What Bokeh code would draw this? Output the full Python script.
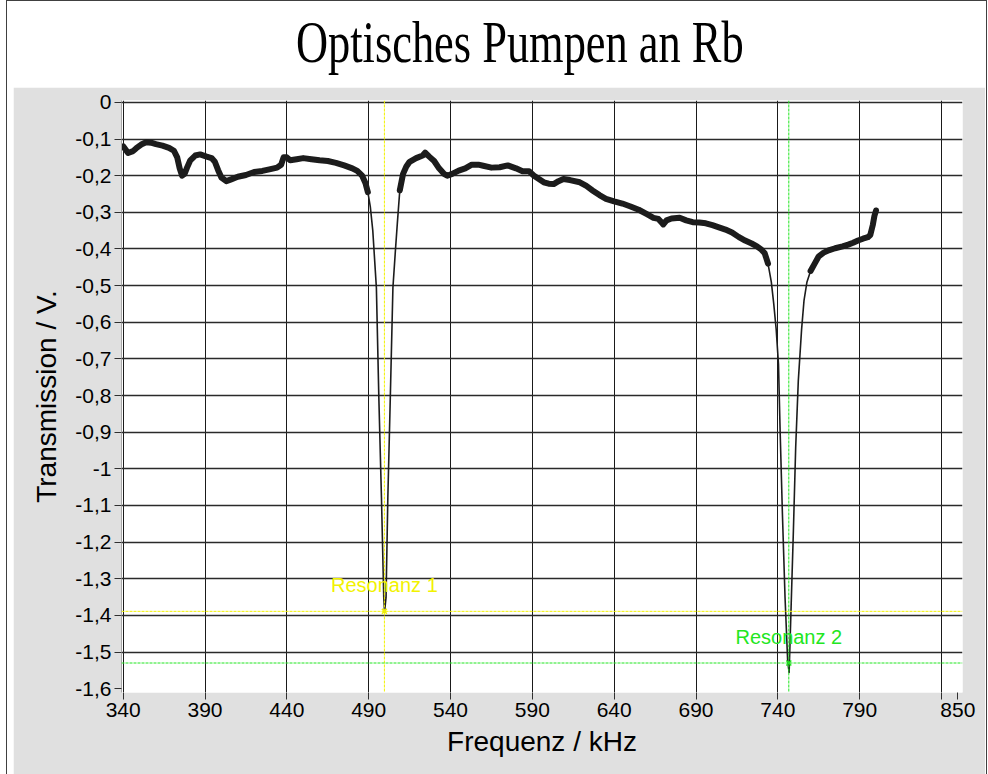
import numpy as np
from bokeh.plotting import figure
from bokeh.models import Range1d, FixedTicker, Span, Label, Div
from bokeh.layouts import column
from bokeh.embed import file_html
from bokeh.resources import INLINE

title_text = "Optisches Pumpen an Rb"
x_label = "Frequenz / kHz"
y_label = "Transmission / V."

# Measured transmission signal (frequency in kHz, voltage in V)
freq_khz = [
    340, 343, 346, 348, 351, 354, 357, 360, 364, 368, 371, 373, 374.5, 376, 377.5,
    379, 381, 384, 387, 391, 394, 396, 398, 400, 403, 406, 410, 415, 420, 425,
    430, 434, 436.5, 438, 440, 442, 446, 450, 455, 460, 465, 470, 475, 480, 483,
    486, 488, 489.5, 491, 492.5, 494.7, 496.2, 497.8, 499.2, 499.7, 500.6, 501.7,
    503.2, 504.8, 506.3, 507.5, 509, 511, 513, 515, 519, 523, 524.5, 527, 530,
    533, 536, 538, 541, 545, 549, 553, 557, 560, 565, 570, 575, 580, 584, 588,
    591, 594, 597, 600, 603, 606, 609, 613, 619, 623, 627, 631, 635, 640, 645,
    650, 655, 660, 664, 667, 669, 670, 672, 675, 680, 684, 688, 692, 696, 700,
    704, 708, 712, 716, 720, 724, 727, 730, 732, 734, 736, 737.5, 739, 740.4,
    741.4, 742.8, 744.4, 746.0, 746.9, 748.1, 749.5, 750.9, 752.5, 754.5, 756,
    757.8, 760, 762.5, 765, 768, 771.5, 775, 779.6, 783, 786, 789, 792, 795,
    796.5, 798, 799, 800,
]
transmission_v = [
    -0.120, -0.138, -0.133, -0.125, -0.115, -0.109, -0.110, -0.114, -0.118, -0.124,
    -0.132, -0.150, -0.180, -0.200, -0.195, -0.178, -0.158, -0.145, -0.142, -0.148,
    -0.152, -0.162, -0.185, -0.205, -0.215, -0.210, -0.203, -0.198, -0.190, -0.187,
    -0.182, -0.178, -0.170, -0.150, -0.150, -0.158, -0.155, -0.152, -0.155, -0.158,
    -0.160, -0.165, -0.172, -0.180, -0.187, -0.200, -0.220, -0.245, -0.285, -0.350,
    -0.506, -0.806, -1.078, -1.351, -1.390, -1.351, -1.078, -0.806, -0.506, -0.406,
    -0.330, -0.240, -0.195, -0.175, -0.162, -0.152, -0.145, -0.137, -0.148, -0.160,
    -0.180, -0.195, -0.200, -0.195, -0.186, -0.180, -0.170, -0.170, -0.173, -0.178,
    -0.177, -0.172, -0.180, -0.188, -0.188, -0.200, -0.209, -0.218, -0.222, -0.223,
    -0.215, -0.209, -0.212, -0.218, -0.228, -0.241, -0.253, -0.263, -0.270, -0.276,
    -0.284, -0.293, -0.305, -0.315, -0.318, -0.328, -0.333, -0.322, -0.317, -0.315,
    -0.322, -0.327, -0.328, -0.330, -0.335, -0.341, -0.347, -0.355, -0.367, -0.377,
    -0.385, -0.392, -0.402, -0.412, -0.440, -0.490, -0.550, -0.620, -0.715, -0.897,
    -1.124, -1.351, -1.524, -1.556, -1.378, -1.169, -0.942, -0.760, -0.620, -0.540,
    -0.490, -0.460, -0.440, -0.420, -0.410, -0.403, -0.398, -0.393, -0.388, -0.383,
    -0.377, -0.372, -0.368, -0.362, -0.335, -0.310, -0.295,
]

# Cursor positions (kHz, V) with their names
cursor_names = ["Resonanz 1", "Resonanz 2"]
cursor_freq = [499.6, 746.7]
cursor_volt = [-1.389, -1.530]
cursor_colors = ["#f2f200", "#22e622"]

x_ticks = [340, 390, 440, 490, 540, 590, 640, 690, 740, 790, 840, 850]
x_tick_labels = ["340", "390", "440", "490", "540", "590", "640", "690", "740", "790", "", "850"]
y_ticks = [0, -0.1, -0.2, -0.3, -0.4, -0.5, -0.6, -0.7, -0.8, -0.9, -1, -1.1, -1.2,
           -1.3, -1.4, -1.5, -1.6]
y_tick_labels = ["0", "-0,1", "-0,2", "-0,3", "-0,4", "-0,5", "-0,6", "-0,7", "-0,8",
                 "-0,9", "-1", "-1,1", "-1,2", "-1,3", "-1,4", "-1,5", "-1,6"]

TICK_FONT = "Liberation Sans"

p = figure(
    width=972, height=687, title=None,
    output_backend="svg", toolbar_location=None,
    x_range=Range1d(338.96, 852.83), y_range=Range1d(-1.6105, 0.0052),
    min_border_left=108, min_border_right=23, min_border_top=13, min_border_bottom=82,
    border_fill_color="#e0e0e0", background_fill_color="white",
    outline_line_color=None, margin=(0, 0, 0, 6),
)

# axes
p.xaxis.ticker = FixedTicker(ticks=x_ticks)
p.xaxis.major_label_overrides = dict(zip(x_ticks, x_tick_labels))
p.yaxis.ticker = FixedTicker(ticks=y_ticks)
p.yaxis.major_label_overrides = dict(zip(y_ticks, y_tick_labels))
p.xaxis.axis_label = x_label
p.yaxis.axis_label = y_label
for ax in (p.xaxis, p.yaxis):
    ax.major_label_text_font = TICK_FONT
    ax.major_label_text_font_size = "21px"
    ax.major_label_text_color = "black"
    ax.axis_label_text_font = TICK_FONT
    ax.axis_label_text_font_size = "28px"
    ax.axis_label_text_font_style = "normal"
    ax.axis_label_text_color = "black"
    ax.major_tick_out = 7
    ax.major_tick_in = 0
    ax.minor_tick_out = 0
    ax.minor_tick_in = 0
    ax.major_tick_line_color = "#303030"
p.xaxis.axis_line_color = None
p.yaxis.axis_line_color = "#a8a8a8"
p.xaxis.major_label_standoff = 3
p.yaxis.major_label_standoff = 3
p.xaxis.axis_label_standoff = 6
p.yaxis.axis_label_standoff = 10

# grid
p.xgrid.ticker = FixedTicker(ticks=x_ticks[:-1])
p.ygrid.ticker = FixedTicker(ticks=y_ticks[:-1])
p.xgrid.grid_line_color = "#1a1a1a"
p.xgrid.grid_line_width = 1
p.ygrid.grid_line_color = "#2a2a2a"
p.ygrid.grid_line_width = 1.4

# cursors
for name, cf, cv, col in zip(cursor_names, cursor_freq, cursor_volt, cursor_colors):
    p.add_layout(Span(location=cf, dimension="height", line_color=col,
                      line_dash="3 1", line_width=1))
    p.add_layout(Span(location=cv, dimension="width", line_color=col,
                      line_dash="3 1", line_width=1))

# trace: thin line everywhere, thick noisy band on the flat parts
f = np.array(freq_khz)
v = np.array(transmission_v)
p.line(f, v, line_color="#1c1c1c", line_width=1.6, line_join="round")
thick = (f <= 490.5) | ((f >= 509) & (f <= 734)) | (f >= 758)
idx = np.flatnonzero(thick)
segments = np.split(idx, np.flatnonzero(np.diff(idx) > 1) + 1)
for seg in segments:
    p.line(f[seg], v[seg], line_color="#1c1c1c", line_width=6,
           line_join="round", line_cap="round")

for name, cf, cv, col in zip(cursor_names, cursor_freq, cursor_volt, cursor_colors):
    p.scatter([cf], [cv], marker="x", size=7, line_color=col, line_width=1.5)
    p.add_layout(Label(x=cf, y=cv, text=name, text_color=col,
                       text_font=TICK_FONT, text_font_size="20px",
                       text_align="center", text_baseline="middle", y_offset=26))

title_div = Div(
    text=(
        '<div style="padding:11px 0 0 289px;white-space:nowrap;">'
        '<span style="display:inline-block;font-family:\'Liberation Serif\',serif;'
        'font-size:60px;line-height:60px;transform:scaleX(0.74);'
        'transform-origin:0 50%;color:#000;">' + title_text + '</span></div>'
    ),
    width=979, height=86, margin=(0, 0, 0, 0),
    styles={"background-color": "white", "overflow": "hidden"},
)

layout = column(
    title_div, p,
    margin=(0, 0, 0, 6),
    styles={
        "background-color": "white",
        "border-left": "1px solid #404040",
        "border-top": "1px solid #404040",
        "border-right": "1px solid #404040",
    },
)

open("out.html", "w").write(file_html(layout, INLINE))
